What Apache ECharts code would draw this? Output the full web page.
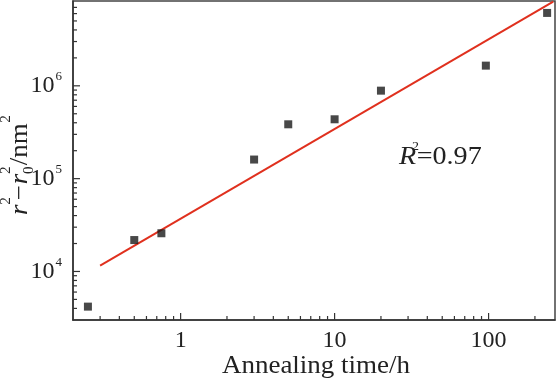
<!DOCTYPE html>
<html>
<head>
<meta charset="utf-8">
<script src="https://cdn.jsdelivr.net/npm/echarts@6/dist/echarts.min.js"></script>
<style>
html,body{margin:0;padding:0;background:#fff;}
#c{width:557px;height:380px;}
</style>
</head>
<body>
<div id="c"></div>
<script>
// ---- data ----
var annealTime = [0.25, 0.5, 0.75, 3, 5, 10, 20, 96, 240];
var growthValue = [4180, 21800, 25800, 160600, 385000, 436000, 887000, 1650000, 6100000];
var fitTime = [0.3, 263];
var fitValue = [11550, 8070000];
var xMajorTicks = [1, 10, 100];
var xMinorTicks = [0.3, 0.4, 0.5, 0.6, 0.7, 0.8, 0.9, 2, 3, 4, 5, 6, 7, 8, 9, 20, 30, 40, 50, 60, 70, 80, 90, 200];
var yMajorTicks = [1e4, 1e5, 1e6];
var yMinorTicks = [4000, 5000, 6000, 7000, 8000, 9000, 2e4, 3e4, 4e4, 5e4, 6e4, 7e4, 8e4, 9e4, 2e5, 3e5, 4e5, 5e5, 6e5, 7e5, 8e5, 9e5, 2e6, 3e6, 4e6, 5e6, 6e6, 7e6];
var X_MIN = 0.2, X_MAX = 270;
var Y_MIN = 3000, Y_MAX = 8.2e6;

var SERIF = '"Liberation Serif", "Times New Roman", serif';
var AXIS_COLOR = '#333';
var TEXT_COLOR = '#222';

function isPow10(v) {
  var e = Math.log(v) / Math.LN10;
  return Math.abs(e - Math.round(e)) < 1e-6;
}

function tickSeries(values, axis, len) {
  return {
    type: 'custom',
    silent: true,
    clip: false,
    data: values.map(function (v) { return axis === 'x' ? [v, Y_MIN] : [X_MIN, v]; }),
    renderItem: function (params, api) {
      var p = api.coord([api.value(0), api.value(1)]);
      var shape = axis === 'x'
        ? { x1: p[0], y1: p[1], x2: p[0], y2: p[1] - len }
        : { x1: p[0], y1: p[1], x2: p[0] + len, y2: p[1] };
      return { type: 'line', shape: shape, style: { stroke: AXIS_COLOR, lineWidth: 1.2 } };
    },
    z: 5
  };
}

var STRETCH = 1.08;
function txt(str, x, y, size, opts) {
  opts = opts || {};
  return {
    type: 'text', x: x, y: y,
    style: {
      text: str, fontSize: size, fontFamily: SERIF,
      fontStyle: opts.italic ? 'italic' : 'normal',
      fill: TEXT_COLOR, align: opts.align || 'left', verticalAlign: 'middle'
    }
  };
}

var chart = echarts.init(document.getElementById('c'), null, { renderer: 'canvas' });
chart.setOption({
  animation: false,
  backgroundColor: '#fff',
  grid: {
    left: 73, top: 1, width: 482, height: 319,
    show: true, borderColor: '#444', borderWidth: 1.5, backgroundColor: 'transparent'
  },
  xAxis: {
    type: 'log', logBase: 10, min: X_MIN, max: X_MAX,
    axisLine: { show: true, lineStyle: { color: AXIS_COLOR, width: 1.5 } },
    axisTick: { show: false },
    minorTick: { show: false },
    splitLine: { show: false },
    axisLabel: {
      show: true, margin: 9, color: TEXT_COLOR, fontFamily: SERIF, fontSize: 24,
      showMinLabel: false, showMaxLabel: false,
      formatter: function (v) { return isPow10(v) ? String(Math.round(v)) : ''; }
    }
  },
  yAxis: {
    type: 'log', logBase: 10, min: Y_MIN, max: Y_MAX,
    axisLine: { show: true, lineStyle: { color: AXIS_COLOR, width: 1.5 } },
    axisTick: { show: false },
    minorTick: { show: false },
    splitLine: { show: false },
    axisLabel: {
      show: true, margin: 11, color: TEXT_COLOR,
      showMinLabel: false, showMaxLabel: false,
      formatter: function (v) {
        if (!isPow10(v)) return '';
        var e = Math.round(Math.log(v) / Math.LN10);
        return '{a|10}{s|' + e + '}';
      },
      rich: {
        a: { fontFamily: SERIF, fontSize: 24, color: TEXT_COLOR },
        s: { fontFamily: SERIF, fontSize: 13, color: TEXT_COLOR, padding: [0, 0, 18, 1] }
      }
    }
  },
  series: [
    tickSeries(xMajorTicks, 'x', 7),
    tickSeries(xMinorTicks, 'x', 4),
    tickSeries(yMajorTicks, 'y', 7),
    tickSeries(yMinorTicks, 'y', 4),
    {
      type: 'line',
      data: fitTime.map(function (t, i) { return [t, fitValue[i]]; }),
      showSymbol: false,
      lineStyle: { color: '#e0301e', width: 2 },
      z: 3
    },
    {
      type: 'scatter',
      data: annealTime.map(function (t, i) { return [t, growthValue[i]]; }),
      symbol: 'rect', symbolSize: 8,
      itemStyle: { color: '#1a1a1a' },
      z: 4
    }
  ],
  graphic: { elements: [
    { type: 'group', x: 316, y: 374, scaleX: STRETCH, children: [
      txt('Annealing time/h', 0, -8, 25, { align: 'center' })
    ]},
    { type: 'group', x: 28, y: 215, rotation: Math.PI / 2, scaleX: STRETCH, children: [
      txt('r', 0, -8, 25, { italic: true }),
      txt('2', 9.5, -22, 14),
      txt('\u2212', 13.5, -8, 25),
      txt('r', 28.5, -8, 25, { italic: true }),
      txt('0', 38, 1, 14),
      txt('2', 38, -22, 14),
      txt('/nm', 46, -8, 25),
      txt('2', 85.5, -22, 14)
    ]},
    { type: 'group', x: 399, y: 166, scaleX: STRETCH, children: [
      txt('R', 0, -8.5, 26, { italic: true }),
      txt('2', 12, -19.5, 13),
      txt('=0.97', 16.4, -8.5, 26)
    ]}
  ]}
});
</script>
</body>
</html>
